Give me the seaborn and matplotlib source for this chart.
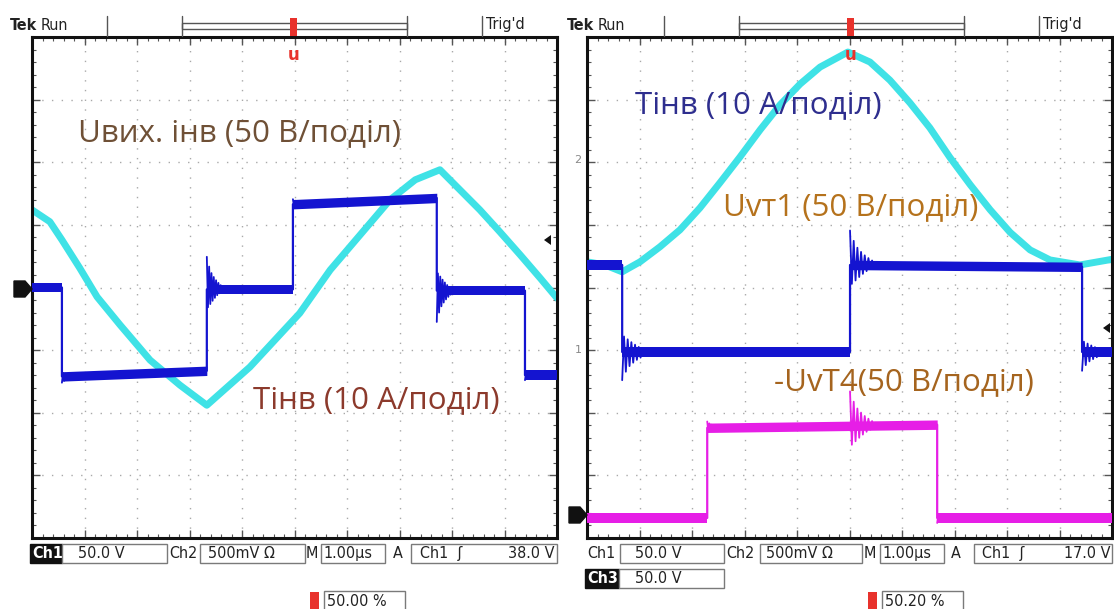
import matplotlib
matplotlib.use("Agg")
import matplotlib.pyplot as plt
from matplotlib.patches import Rectangle, Polygon
from matplotlib.ticker import MultipleLocator
import seaborn as sns

W, H = 1114, 609

# ---------- left screen (time 0..10 div, amplitude -4..4 div) ----------
# Ch2: inverter current
inv_t = [0.00, 0.34, 0.57, 0.91, 1.24, 1.68, 2.25, 2.82, 3.33, 4.15, 5.10,
         5.68, 6.25, 6.82, 7.30, 7.77, 8.15, 8.53, 8.91, 9.30, 9.68, 10.00]
inv_v = [1.24, 1.05, 0.76, 0.31, -0.15, -0.60, -1.16, -1.56, -1.88, -1.27, -0.41,
         0.28, 0.84, 1.40, 1.72, 1.88, 1.56, 1.24, 0.89, 0.52, 0.15, -0.17]
# Ch1: inverter output voltage, flat segments given as (start, end) pairs
out_t = [0.00, 0.57, 0.57, 3.33, 3.33, 4.97, 4.97, 7.71, 7.71, 9.39, 9.39, 10.00]
out_v = [0.00, 0.00, -1.42, -1.33, -0.03, -0.03, 1.33, 1.43, -0.05, -0.05, -1.40, -1.40]
out_ring = [-0.10, 0.52, 0.08, -0.50, -0.08]     # overshoot at each switching edge

# ---------- right screen ----------
# Ch2: inverter current
cur_t = [0.00, 0.34, 0.67, 1.01, 1.39, 1.77, 2.15, 2.53, 2.91, 3.30, 3.68, 4.06, 4.44,
         4.97, 5.39, 5.77, 6.15, 6.53, 6.91, 7.30, 7.68, 8.06, 8.44, 8.82, 9.39, 10.00]
cur_v = [0.41, 0.36, 0.25, 0.41, 0.65, 0.92, 1.27, 1.67, 2.08, 2.52, 2.92, 3.25, 3.52,
         3.76, 3.60, 3.31, 2.95, 2.55, 2.08, 1.64, 1.24, 0.88, 0.60, 0.44, 0.36, 0.45]
# Ch1: voltage across VT1
vt1_t = [0.00, 0.67, 0.67, 5.01, 5.01, 9.43, 9.43, 10.00]
vt1_v = [0.36, 0.36, -1.03, -1.03, 0.36, 0.33, -1.03, -1.03]
vt1_ring = [-0.45, 0.55, -0.30]
# Ch3: inverted voltage across VT4
vt4_t = [0.00, 2.29, 2.29, 6.67, 6.67, 10.00]
vt4_v = [-3.68, -3.68, -2.24, -2.19, -3.68, -3.68]
vt4_ring = [0.10, -0.08]
vt4_burst_t, vt4_burst_amp = 5.01, 0.55        # coupled burst when VT1 switches

# decaying oscillation after a switching edge (relative to the overshoot)
ring_shape = [1.00, -0.55, 0.70, -0.45, 0.50, -0.35, 0.38, -0.26, 0.28, -0.18,
              0.20, -0.12, 0.13, -0.08, 0.08, -0.05, 0.05, -0.03]

BLUE = "#1414d0"
CYAN = "#3fe2e6"
MAGENTA = "#e61ee6"

sns.set_theme(style="white")
plt.rcParams["font.family"] = ["Open Sans", "DejaVu Sans"]

fig = plt.figure(figsize=(W / 100, H / 100), dpi=100)
fig.patch.set_facecolor("white")


def fp(x, y):
    return x / W, 1 - y / H


def screen(x0):
    ax = fig.add_axes([x0 / W, 1 - 538 / H, 525 / W, 501 / H])
    ax.set_xlim(0, 10)
    ax.set_ylim(-4, 4)
    ax.set_facecolor("white")
    ax.xaxis.set_major_locator(MultipleLocator(1))
    ax.yaxis.set_major_locator(MultipleLocator(1))
    ax.xaxis.set_minor_locator(MultipleLocator(0.2))
    ax.yaxis.set_minor_locator(MultipleLocator(0.2))
    ax.grid(True, which="major", color="#a9a9a9", lw=1.0, ls=(0, (1, 6)))
    ax.tick_params(which="both", direction="in", top=True, right=True, left=True, bottom=True,
                   labelleft=False, labelbottom=False, color="#555555")
    ax.tick_params(which="major", length=6, width=1.0)
    ax.tick_params(which="minor", length=3, width=0.8)
    for s in ax.spines.values():
        s.set_color("#111111")
        s.set_linewidth(2.2)
        s.set_visible(True)
    ax.set_axisbelow(True)
    return ax


def stepped(ax, t, v, ring, color, dt, hw=0.075):
    # noisy band on each flat segment
    for k in range(0, len(t), 2):
        ax.fill_between([t[k], t[k + 1]], [v[k] - hw, v[k + 1] - hw], [v[k] + hw, v[k + 1] + hw],
                        color=color, lw=0, zorder=3)
    sns.lineplot(x=t, y=v, sort=False, estimator=None, color=color, lw=1.6, ax=ax,
                 legend=False, zorder=4)
    # ringing after each edge
    for i, amp in enumerate(ring):
        te = t[2 * i + 1]
        lvl = v[2 * i + 2]
        rt = [te + j * dt for j in range(len(ring_shape))]
        rv = [lvl + amp * s for s in ring_shape]
        sns.lineplot(x=rt, y=rv, sort=False, estimator=None, color=color, lw=1.3, ax=ax,
                     legend=False, zorder=4)


# ================= left screen =================
axL = screen(32)
sns.lineplot(x=inv_t, y=inv_v, sort=False, estimator=None, color=CYAN, lw=5, ax=axL,
             legend=False, zorder=2)
stepped(axL, out_t, out_v, out_ring, BLUE, 0.022)

# ================= right screen =================
axR = screen(587)
sns.lineplot(x=cur_t, y=cur_v, sort=False, estimator=None, color=CYAN, lw=5, ax=axR,
             legend=False, zorder=2)
stepped(axR, vt1_t, vt1_v, vt1_ring, BLUE, 0.035)
stepped(axR, vt4_t, vt4_v, vt4_ring, MAGENTA, 0.02)
bt = [vt4_burst_t + j * 0.035 for j in range(len(ring_shape))]
bv = [vt4_v[2] + (vt4_v[3] - vt4_v[2]) * (x - vt4_t[2]) / (vt4_t[3] - vt4_t[2]) + vt4_burst_amp * s
      for x, s in zip(bt, ring_shape)]
sns.lineplot(x=bt, y=bv, sort=False, estimator=None, color=MAGENTA, lw=1.3, ax=axR,
             legend=False, zorder=4)

# ================= scope chrome =================
SC = dict(family="DejaVu Sans", fontsize=11.5, color="#222222", va="center", zorder=10,
          fontstretch="condensed")


def box(x0, y0, x1, y1, fc="white", ec="#7a7a7a", lw=1.0):
    fig.patches.append(Rectangle(fp(x0, y1), (x1 - x0) / W, (y1 - y0) / H, transform=fig.transFigure,
                                 fc=fc, ec=ec, lw=lw, zorder=5))


def vline(x, y0, y1, c="#555555", lw=1.0):
    fig.add_artist(plt.Line2D([x / W, x / W], [1 - y0 / H, 1 - y1 / H], color=c, lw=lw))


def header(dx, trig_label):
    fig.text(*fp(10 + dx, 25), "Tek", fontweight="bold", **SC)
    fig.text(*fp(41 + dx, 25), "Run", **SC)
    vline(107 + dx, 16, 36)
    vline(182 + dx, 16, 36)
    vline(407 + dx, 16, 36)
    box(182 + dx, 23.5, 407 + dx, 29, fc="none", ec="#555555", lw=1.0)
    vline(482 + dx, 16, 36)
    fig.text(*fp(486 + dx, 25), trig_label, **SC)
    # trigger position marker
    fig.patches.append(Rectangle(fp(290 + dx, 36), 7 / W, 18 / H, transform=fig.transFigure,
                                 fc="#e8322c", ec="none", zorder=6))
    fig.text(*fp(293.5 + dx, 55), "u", color="#e8322c", fontsize=12, fontweight="bold",
             ha="center", va="center", family="DejaVu Sans", zorder=10)


def ground_marker(x, y, label, dark=True):
    if dark:
        fig.patches.append(Polygon([fp(x - 18, y - 8), fp(x - 7, y - 8), fp(x, y), fp(x - 7, y + 8),
                                    fp(x - 18, y + 8)], closed=True, transform=fig.transFigure,
                                   fc="#111111", ec="#111111", zorder=6))
    else:
        fig.text(*fp(x - 9, y), label, ha="center", fontsize=8, color="#888888",
                 va="center", family="DejaVu Sans")


header(0, "Trig'd")
header(557, "Trig'd")

ground_marker(32, 289, "1")
ground_marker(587, 160, "2", dark=False)
ground_marker(587, 350, "1", dark=False)
ground_marker(587, 515, "3")

# trigger level arrows
for x, y in [(549, 240), (1108, 328)]:
    fig.patches.append(Polygon([fp(x - 5, y), fp(x + 2, y - 5), fp(x + 2, y + 5)], closed=True,
                               transform=fig.transFigure, fc="#111111", ec="none", zorder=6))

# ---- left footer
box(30, 544, 62, 563, fc="#111111", ec="#111111")
fig.text(*fp(32, 553.5), "Ch1", **{**SC, "color": "white", "fontweight": "bold"})
box(62, 544, 167, 563)
fig.text(*fp(78, 553.5), "50.0 V", **SC)
fig.text(*fp(169, 553.5), "Ch2", **SC)
box(200, 544, 305, 563)
fig.text(*fp(208, 553.5), "500mV Ω", **SC)
fig.text(*fp(306, 553.5), "M", **SC)
box(321, 544, 385, 563)
fig.text(*fp(323, 553.5), "1.00µs", **SC)
fig.text(*fp(393, 553.5), "A", **SC)
box(411, 544, 557, 563)
fig.text(*fp(420, 553.5), "Ch1  ʃ", **SC)
fig.text(*fp(555, 553.5), "38.0 V", ha="right", **SC)
fig.patches.append(Rectangle(fp(310, 609), 9 / W, 17 / H, transform=fig.transFigure,
                             fc="#e8322c", ec="none", zorder=6))
box(324, 591, 405, 612)
fig.text(*fp(327, 601), "50.00 %", **SC)

# ---- right footer
fig.text(*fp(587, 553.5), "Ch1", **SC)
box(620, 544, 724, 563)
fig.text(*fp(635, 553.5), "50.0 V", **SC)
fig.text(*fp(726, 553.5), "Ch2", **SC)
box(760, 544, 862, 563)
fig.text(*fp(766, 553.5), "500mV Ω", **SC)
fig.text(*fp(864, 553.5), "M", **SC)
box(880, 544, 944, 563)
fig.text(*fp(882, 553.5), "1.00µs", **SC)
fig.text(*fp(951, 553.5), "A", **SC)
box(974, 544, 1112, 563)
fig.text(*fp(982, 553.5), "Ch1  ʃ", **SC)
fig.text(*fp(1110, 553.5), "17.0 V", ha="right", **SC)
box(585, 569, 619, 588, fc="#111111", ec="#111111")
fig.text(*fp(587, 578.5), "Ch3", **{**SC, "color": "white", "fontweight": "bold"})
box(619, 569, 724, 588)
fig.text(*fp(635, 578.5), "50.0 V", **SC)
fig.patches.append(Rectangle(fp(868, 609), 9 / W, 17 / H, transform=fig.transFigure,
                             fc="#e8322c", ec="none", zorder=6))
box(882, 591, 963, 612)
fig.text(*fp(885, 601), "50.20 %", **SC)

# ================= channel annotations =================
AN = dict(fontsize=22.5, va="center", ha="left", zorder=10)
fig.text(*fp(78, 133), "Uвих. інв (50 В/поділ)", color="#6f5036", **AN)
fig.text(*fp(253, 400), "Тінв (10 А/поділ)", color="#8c3a2c", **AN)
fig.text(*fp(635, 105), "Тінв (10 А/поділ)", color="#2e2e8e", **AN)
fig.text(*fp(723, 207), "Uvт1 (50 В/поділ)", color="#b5721c", **AN)
fig.text(*fp(774, 382), "-UvT4(50 В/поділ)", color="#a5641e", **AN)

fig.savefig("out.png", dpi=100, facecolor="white")
